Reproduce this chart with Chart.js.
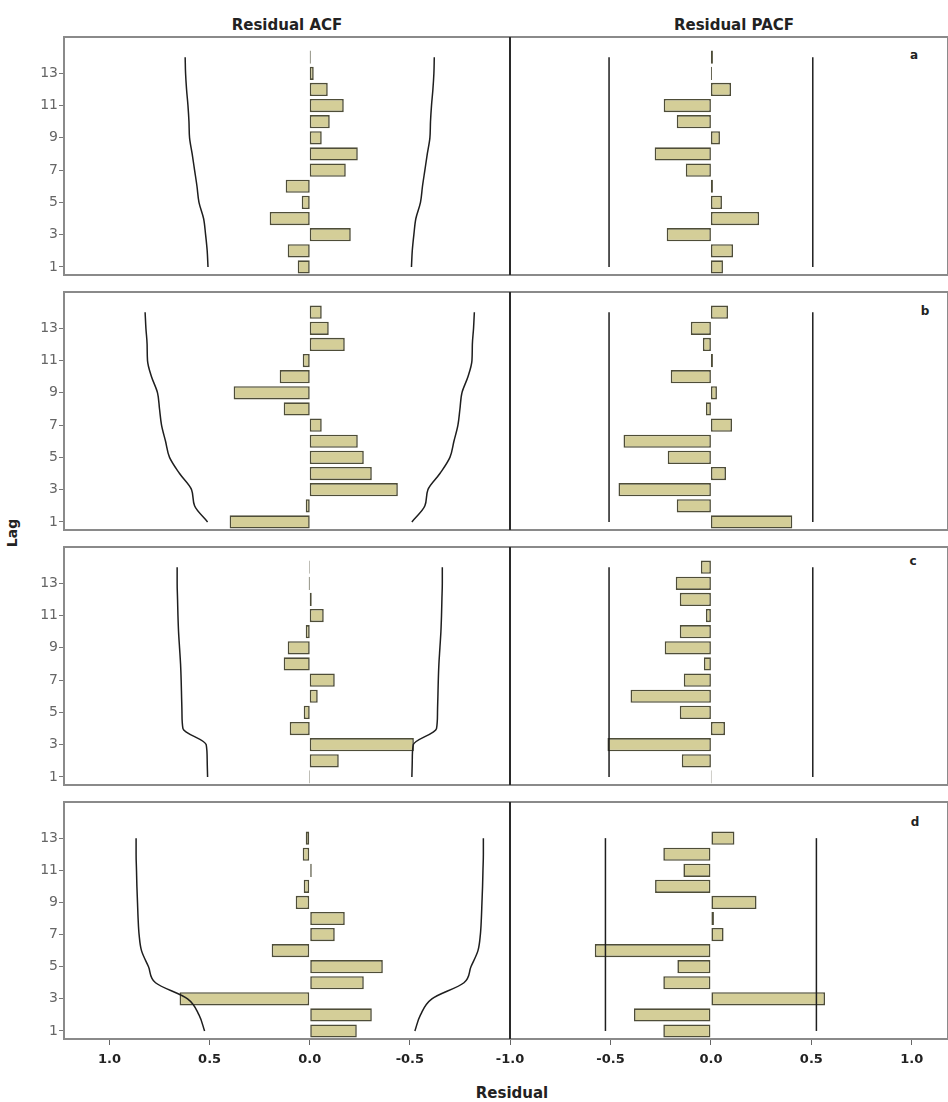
<!DOCTYPE html>
<html>
<head>
<meta charset="utf-8">
<script src="https://cdn.jsdelivr.net/npm/chart.js"></script>
<style>
  body { margin: 0; background: #fff; font-family: 'DejaVu Sans', sans-serif; }
  #page { position: relative; width: 948px; height: 1102px; overflow: hidden; background: #fff; }
  .panel { position: absolute; }
  .txt { position: absolute; font-weight: bold; color: #222; white-space: nowrap; transform: translate(-50%, -50%); }
</style>
</head>
<body>
<div id="page">
  <div class="txt" style="left:287px;top:25px;font-size:15px">Residual ACF</div>
  <div class="txt" style="left:734px;top:25px;font-size:15px">Residual PACF</div>
  <div class="txt" style="left:12px;top:533px;font-size:14px;transform:translate(-50%,-50%) rotate(-90deg)">Lag</div>
  <div class="txt" style="left:512px;top:1093px;font-size:15px">Residual</div>
  <div class="txt" style="left:914px;top:55px;font-size:12px">a</div>
  <div class="txt" style="left:925px;top:311px;font-size:12px">b</div>
  <div class="txt" style="left:913px;top:561px;font-size:12px">c</div>
  <div class="txt" style="left:915px;top:822px;font-size:12px">d</div>

  <div class="panel" style="left:0;top:27px;width:530px;height:258px"><canvas id="acfA"></canvas></div>
  <div class="panel" style="left:470px;top:27px;width:478px;height:258px"><canvas id="pacfA"></canvas></div>
  <div class="panel" style="left:0;top:282px;width:530px;height:258px"><canvas id="acfB"></canvas></div>
  <div class="panel" style="left:470px;top:282px;width:478px;height:258px"><canvas id="pacfB"></canvas></div>
  <div class="panel" style="left:0;top:537px;width:530px;height:258px"><canvas id="acfC"></canvas></div>
  <div class="panel" style="left:470px;top:537px;width:478px;height:258px"><canvas id="pacfC"></canvas></div>
  <div class="panel" style="left:0;top:792px;width:530px;height:292px"><canvas id="acfD"></canvas></div>
  <div class="panel" style="left:470px;top:792px;width:478px;height:292px"><canvas id="pacfD"></canvas></div>
</div>

<script>
// lags
const lags  = [1, 2, 3, 4, 5, 6, 7, 8, 9, 10, 11, 12, 13, 14];
const lagsD = [1, 2, 3, 4, 5, 6, 7, 8, 9, 10, 11, 12, 13];

// tick labels
const lagTicks = [1, 3, 5, 7, 9, 11, 13];
const acfTicks = [1.0, 0.5, 0.0, -0.5];
const pacfTicks = [-1.0, -0.5, 0.0, 0.5, 1.0];

// panel a
const acfA    = [0.06, 0.11, -0.205, 0.20, 0.04, 0.12, -0.18, -0.24, -0.06, -0.10, -0.17, -0.09, -0.02, -0.005];
const acfLimA = [0.508, 0.512, 0.52, 0.53, 0.553, 0.563, 0.575, 0.587, 0.60, 0.603, 0.608, 0.615, 0.62, 0.622];
const pacfA   = [0.06, 0.11, -0.22, 0.24, 0.055, 0.01, -0.125, -0.28, 0.045, -0.17, -0.235, 0.10, 0.005, 0.01];
const pacfLimA = 0.507;

// panel b
const acfB    = [0.40, 0.02, -0.44, -0.31, -0.27, -0.24, -0.06, 0.13, 0.38, 0.15, 0.035, -0.175, -0.095, -0.06];
const acfLimB = [0.51, 0.575, 0.59, 0.65, 0.70, 0.72, 0.74, 0.75, 0.76, 0.79, 0.81, 0.812, 0.818, 0.822];
const pacfB   = [0.405, -0.17, -0.46, 0.075, -0.215, -0.435, 0.105, -0.025, 0.03, -0.20, 0.01, -0.04, -0.10, 0.085];
const pacfLimB = 0.507;

// panel c
const acfC    = [0.003, -0.145, -0.52, 0.10, 0.03, -0.04, -0.125, 0.13, 0.11, 0.02, -0.07, -0.01, 0.005, 0.003];
const acfLimC = [0.51, 0.512, 0.517, 0.633, 0.638, 0.64, 0.642, 0.645, 0.65, 0.655, 0.658, 0.66, 0.662, 0.662];
const pacfC   = [0.003, -0.145, -0.515, 0.07, -0.155, -0.40, -0.135, -0.035, -0.23, -0.155, -0.025, -0.155, -0.175, -0.05];
const pacfLimC = 0.507;

// panel d
const acfD    = [-0.235, -0.31, 0.65, -0.27, -0.365, 0.19, -0.125, -0.175, 0.07, 0.03, -0.01, 0.035, 0.02];
const acfLimD = [0.525, 0.553, 0.61, 0.77, 0.805, 0.84, 0.852, 0.857, 0.86, 0.863, 0.865, 0.867, 0.867];
const pacfD   = [-0.237, -0.383, 0.568, -0.237, -0.167, -0.578, 0.063, 0.015, 0.227, -0.278, -0.137, -0.237, 0.117];
const pacfLimD = 0.525;

Chart.defaults.font.family = "'DejaVu Sans', sans-serif";
Chart.defaults.animation = false;

// grey box round the plot area, dark divider between ACF and PACF
const panelBox = {
  id: 'panelBox',
  afterDraw(chart, args, opts) {
    const { ctx, chartArea: a } = chart;
    ctx.save();
    ctx.strokeStyle = '#8a8a8a';
    ctx.lineWidth = 2;
    ctx.strokeRect(a.left, a.top, a.right - a.left, a.bottom - a.top);
    ctx.strokeStyle = '#2a2a2a';
    ctx.beginPath();
    const x = opts.side === 'right' ? a.right : a.left;
    ctx.moveTo(x, a.top);
    ctx.lineTo(x, a.bottom);
    ctx.stroke();
    ctx.restore();
  }
};

function drawPanel(id, isAcf, lagList, values, limits, showX) {
  const pts = values.map((v, i) => ({ x: v, y: lagList[i] }));
  const lim = lagList.map((l, i) => Array.isArray(limits) ? limits[i] : limits);
  const upper = lagList.map((l, i) => ({ x: lim[i], y: l }));
  const lower = lagList.map((l, i) => ({ x: -lim[i], y: l }));
  const lineStyle = {
    type: 'line', borderColor: '#1e1e1e', borderWidth: 1.5, pointRadius: 0,
    cubicInterpolationMode: 'monotone', fill: false, order: 0
  };

  new Chart(document.getElementById(id), {
    type: 'bar',
    data: {
      datasets: [
        { ...lineStyle, data: upper },
        { ...lineStyle, data: lower },
        {
          data: pts,
          backgroundColor: 'rgb(212,206,152)',
          borderColor: '#4e4d38',
          borderWidth: 1.6,
          borderSkipped: false,
          barPercentage: 0.82,
          categoryPercentage: 1,
          order: 1
        }
      ]
    },
    options: {
      indexAxis: 'y',
      responsive: true,
      maintainAspectRatio: false,
      layout: {
        padding: {
          top: 10,
          bottom: showX ? 0 : 10,
          left: isAcf ? 0 : 40,
          right: isAcf ? 20 : 0
        }
      },
      plugins: {
        legend: { display: false },
        tooltip: { enabled: false },
        panelBox: { side: isAcf ? 'right' : 'left' }
      },
      scales: {
        x: {
          type: 'linear',
          display: showX,
          offset: false,
          reverse: isAcf,
          min: -1.0,
          max: isAcf ? 1.227 : 1.18,
          afterBuildTicks: s => { s.ticks = (isAcf ? acfTicks : pacfTicks).map(v => ({ value: v })); },
          afterFit: s => { s.height = showX ? 45 : 0; },
          border: { display: false },
          grid: { offset: false, drawOnChartArea: false, drawTicks: true, tickLength: 6, color: '#666' },
          ticks: {
            autoSkip: false, maxRotation: 0, padding: 7, color: '#222',
            font: { size: 13, weight: 'bold' },
            callback: v => v.toFixed(1)
          }
        },
        y: {
          type: 'linear',
          display: isAcf,
          offset: false,
          min: 0.5,
          max: 15.25,
          afterBuildTicks: s => { s.ticks = lagTicks.map(v => ({ value: v })); },
          afterFit: s => { s.width = isAcf ? 64 : 0; },
          border: { display: false },
          grid: { offset: false, drawOnChartArea: false, drawTicks: true, tickLength: 5, color: '#777' },
          ticks: { autoSkip: false, padding: 1, color: '#666', font: { size: 14 } }
        }
      }
    },
    plugins: [panelBox]
  });
}

drawPanel('acfA', true, lags, acfA, acfLimA, false);
drawPanel('pacfA', false, lags, pacfA, pacfLimA, false);
drawPanel('acfB', true, lags, acfB, acfLimB, false);
drawPanel('pacfB', false, lags, pacfB, pacfLimB, false);
drawPanel('acfC', true, lags, acfC, acfLimC, false);
drawPanel('pacfC', false, lags, pacfC, pacfLimC, false);
drawPanel('acfD', true, lagsD, acfD, acfLimD, true);
drawPanel('pacfD', false, lagsD, pacfD, pacfLimD, true);
</script>
</body>
</html>
